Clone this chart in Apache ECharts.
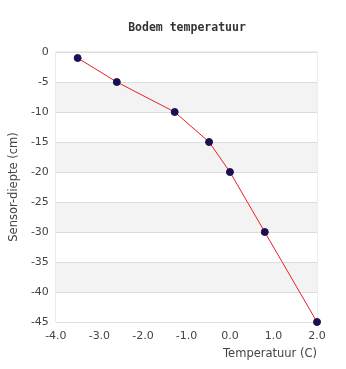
<!DOCTYPE html>
<html>
<head>
<meta charset="utf-8">
<script src="https://cdn.jsdelivr.net/npm/echarts@6/dist/echarts.min.js"></script>
<style>
  html, body { margin: 0; padding: 0; background: #fff; }
  #chart { width: 346px; height: 369px; }
</style>
</head>
<body>
<div id="chart"></div>
<script>
// Soil temperature per sensor depth
const temperatures = [-3.5, -2.6, -1.27, -0.48, 0.0, 0.8, 2.0];
const depths = [-1, -5, -10, -15, -20, -30, -45];

const points = temperatures.map((t, i) => [t, depths[i]]);

const chart = echarts.init(document.getElementById('chart'), null, { renderer: 'canvas' });
const labelStyle = { color: '#444', fontSize: 11, fontFamily: 'DejaVu Sans' };
const nameStyle = { color: '#444', fontSize: 11.5, fontFamily: 'DejaVu Sans' };

chart.setOption({
  animation: false,
  backgroundColor: '#fff',
  title: {
    text: 'Bodem temperatuur',
    left: 182,
    top: 17,
    textAlign: 'center',
    textStyle: { fontFamily: 'DejaVu Sans Mono', fontWeight: 'bold', fontSize: 11.5, color: '#333' }
  },
  grid: {
    left: 47, right: 29, top: 52, bottom: 47,
    show: true, borderColor: '#dcdcdc', borderWidth: 1
  },
  xAxis: {
    type: 'value',
    min: -4, max: 2, interval: 1,
    axisLine: { show: false, onZero: false },
    axisTick: { show: false },
    splitLine: { show: false },
    axisLabel: Object.assign({ margin: 9, formatter: v => v.toFixed(1) }, labelStyle),
    name: 'Temperatuur (C)',
    nameLocation: 'end',
    nameGap: 0,
    nameTextStyle: Object.assign({ align: 'right', verticalAlign: 'top', padding: [26, 0, 0, 0] }, nameStyle)
  },
  yAxis: {
    type: 'value',
    min: -45, max: 0, interval: 5,
    axisLine: { show: false, onZero: false },
    axisTick: { show: false },
    splitLine: { show: true, lineStyle: { color: '#dcdcdc', width: 1 } },
    splitArea: { show: true, areaStyle: { color: ['#ffffff', '#f3f3f3'] } },
    axisLabel: Object.assign({ margin: 7 }, labelStyle),
    name: 'Sensor-diepte (cm)',
    nameLocation: 'middle',
    nameGap: 23,
    nameTextStyle: nameStyle
  },
  series: [{
    type: 'line',
    data: points,
    lineStyle: { color: '#e8202a', width: 1 },
    itemStyle: { color: '#1c0f4f', borderColor: '#1c0f4f' },
    symbol: 'circle',
    symbolSize: 7,
    z: 3
  }]
});
</script>
</body>
</html>
